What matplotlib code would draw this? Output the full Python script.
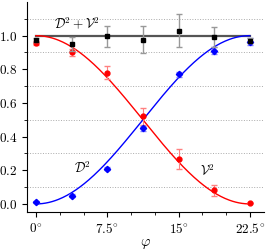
import numpy as np
import matplotlib
matplotlib.use('Agg')
import matplotlib.pyplot as plt
from matplotlib.ticker import MultipleLocator

plt.rcParams['mathtext.fontset'] = 'cm'
plt.rcParams['font.family'] = 'serif'
plt.rcParams['font.serif'] = ['DejaVu Serif']

# измерения (углы в градусах)
phi = [0, 3.75, 7.5, 11.25, 15, 18.75, 22.5]
vis = [0.957, 0.90, 0.78, 0.52, 0.265, 0.08, 0.005]
vis_err = [0.012, 0.02, 0.04, 0.05, 0.06, 0.03, 0.0]
dist = [0.01, 0.05, 0.21, 0.45, 0.77, 0.91, 0.965]
dist_err = [0.005, 0.01, 0.01, 0.015, 0.015, 0.02, 0.02]
total = [0.975, 0.95, 0.995, 0.975, 1.03, 0.99, 0.97]
total_err = [0.01, 0.04, 0.065, 0.08, 0.10, 0.06, 0.015]

xticks = [0, 7.5, 15, 22.5]
xticklabels = [r'$0^{\circ}$', r'$7.5^{\circ}$', r'$15^{\circ}$', r'$22.5^{\circ}$']

fig = plt.figure(figsize=(2.74, 2.5), dpi=100)
ax = fig.add_axes([0.0985, 0.152, 0.865, 0.84])

# теоретические кривые
t = np.linspace(0, 22.5, 200)
ax.plot(t, np.cos(np.radians(4 * t)) ** 2, color='red', lw=1.0, zorder=2)
ax.plot(t, np.sin(np.radians(4 * t)) ** 2, color='blue', lw=1.0, zorder=2)
ax.plot([0, 22.5], [1, 1], color='#555555', lw=1.6, zorder=1)

# точки с погрешностями
ax.errorbar(phi, total, yerr=total_err, fmt='s', color='black', ms=3.5,
            ecolor='#999999', elinewidth=1.0, capsize=2, zorder=4)
ax.errorbar(phi, vis, yerr=vis_err, fmt='o', color='red', ms=3.5,
            ecolor='#ff8080', elinewidth=0.8, capsize=2, zorder=3)
ax.errorbar(phi, dist, yerr=dist_err, fmt='D', color='blue', ms=3.2,
            ecolor='#8080ff', elinewidth=0.8, capsize=2, zorder=3)

ax.text(4.3, 1.075, r'$\mathcal{D}^2+\mathcal{V}^2$', fontsize=9.5, ha='center', va='center')
ax.text(4.85, 0.21, r'$\mathcal{D}^2$', fontsize=9.5, ha='center', va='center')
ax.text(18.0, 0.20, r'$\mathcal{V}^2$', fontsize=9.5, ha='center', va='center')

ax.set_xlim(-0.95, 24)
ax.set_ylim(-0.048, 1.2)
ax.set_xticks(xticks)
ax.set_xticklabels(xticklabels)
ax.xaxis.set_minor_locator(MultipleLocator(2.5))
ax.set_yticks([0, 0.2, 0.4, 0.6, 0.8, 1.0])
ax.set_yticklabels([r'$%.1f$' % v for v in [0, 0.2, 0.4, 0.6, 0.8, 1.0]])
ax.set_yticks([0.1, 0.3, 0.5, 0.7, 0.9, 1.1], minor=True)
ax.grid(True, which='minor', axis='y', color='#aaaaaa', ls=':', lw=0.7)
ax.tick_params(labelsize=9.5, direction='out', length=3.5)
ax.tick_params(which='minor', length=2)
ax.spines['top'].set_visible(False)
ax.spines['right'].set_visible(False)
ax.set_xlabel(r'$\varphi$', fontsize=10.5, labelpad=1)

fig.savefig('out.png', dpi=100)
